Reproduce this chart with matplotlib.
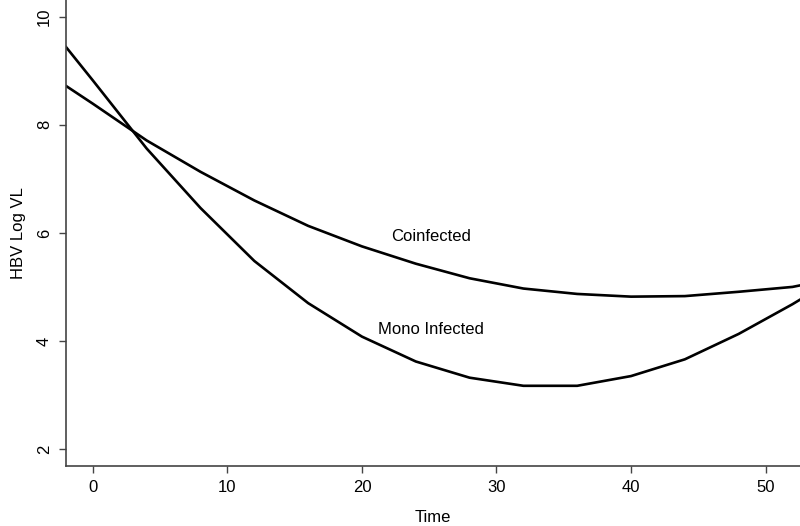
import matplotlib
matplotlib.use('Agg')
import matplotlib.pyplot as plt

# Time points of the fitted curves
time = [-2, 0, 4, 8, 12, 16, 20, 24, 28, 32, 36, 40, 44, 48, 52, 52.6]

# HBV log viral load
mono = [9.44, 8.82, 7.56, 6.46, 5.48, 4.70, 4.08, 3.62, 3.32, 3.17, 3.17, 3.35, 3.66, 4.13, 4.68, 4.77]
coinfected = [8.72, 8.39, 7.71, 7.13, 6.60, 6.13, 5.75, 5.43, 5.16, 4.97, 4.87, 4.82, 4.83, 4.91, 5.00, 5.03]

y_ticks = [2, 4, 6, 8, 10]
x_ticks = [0, 10, 20, 30, 40, 50]

plt.rcParams['font.family'] = ['Liberation Sans', 'DejaVu Sans']

fig = plt.figure(figsize=(8, 5.26), dpi=100)
ax = fig.add_axes([0.0825, 0.114, 0.9175, 0.886])

ax.plot(time, mono, color='black', linewidth=1.9)
ax.plot(time, coinfected, color='black', linewidth=1.9)

ax.text(25.1, 5.93, 'Coinfected', ha='center', va='center', fontsize=12)
ax.text(25.1, 4.22, 'Mono Infected', ha='center', va='center', fontsize=12)

ax.set_xlim(-2, 52.56)
ax.set_ylim(1.685, 10.31)
ax.set_xticks(x_ticks)
ax.set_yticks(y_ticks)
ax.set_yticklabels([str(t) for t in y_ticks], rotation=90, va='center')

for side in ['top', 'right']:
    ax.spines[side].set_visible(False)
for side in ['left', 'bottom']:
    ax.spines[side].set_color('#444444')
    ax.spines[side].set_linewidth(1.2)

ax.tick_params(axis='both', direction='out', length=5, width=1, color='#444444',
               labelsize=12, pad=5)

ax.set_xlabel('Time', fontsize=12, labelpad=11)
ax.set_ylabel('HBV Log VL', fontsize=12, labelpad=8)

fig.savefig('out.png', dpi=100)
